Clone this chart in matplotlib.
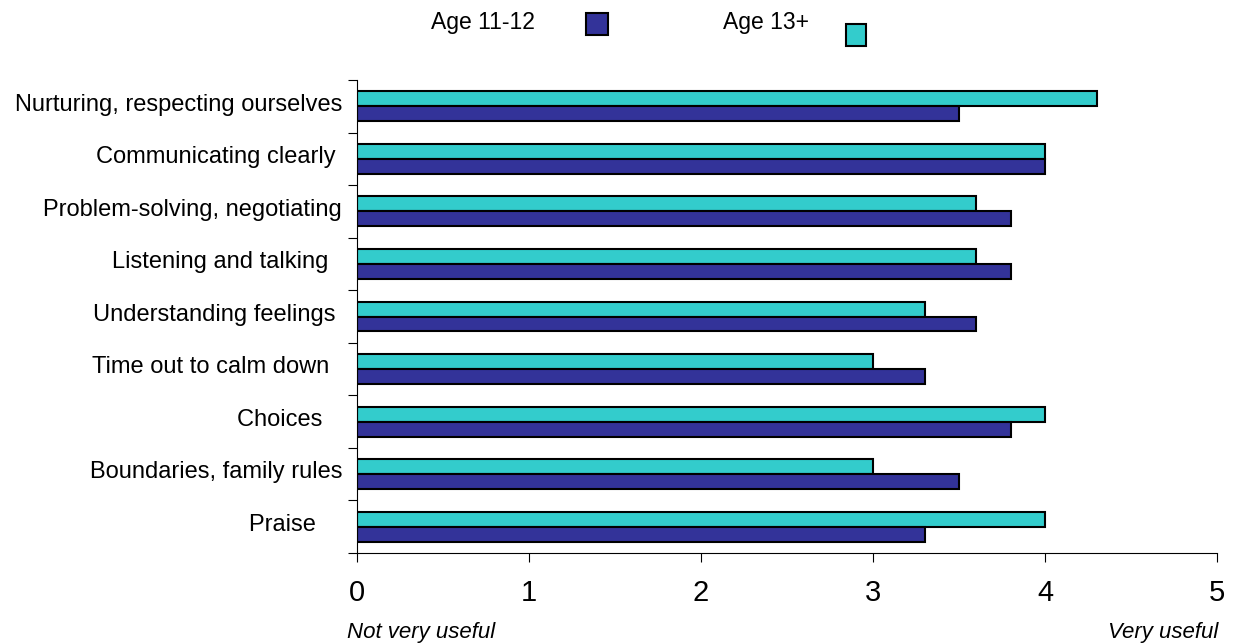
import numpy as np
import matplotlib
matplotlib.use("Agg")
import matplotlib.pyplot as plt
from matplotlib.patches import Rectangle

plt.rcParams['font.family'] = ['Liberation Sans', 'DejaVu Sans']

# data, top to bottom as shown
categories = [
    "Nurturing, respecting ourselves",
    "Communicating clearly ",
    "Problem-solving, negotiating",
    "Listening and talking  ",
    "Understanding feelings ",
    "Time out to calm down  ",
    "Choices   ",
    "Boundaries, family rules",
    "Praise    ",
]
age_11_12 = [3.5, 4.0, 3.8, 3.8, 3.6, 3.3, 3.8, 3.5, 3.3]
age_13_plus = [4.3, 4.0, 3.6, 3.6, 3.3, 3.0, 4.0, 3.0, 4.0]
series_names = ["Age 11-12", "Age 13+"]
xticks = [0, 1, 2, 3, 4, 5]

DARK = "#333399"
TEAL = "#33CCCC"

W, H = 1235, 644
fig = plt.figure(figsize=(W / 100, H / 100), dpi=100)
ax = fig.add_axes([357 / W, 1 - 553 / H, (1217 - 357) / W, (553 - 80) / H])

y = np.arange(len(categories))
bh = 0.285
# teal on top, dark underneath (y axis is inverted)
ax.barh(y - bh / 2, age_13_plus, height=bh, color=TEAL,
        edgecolor='black', linewidth=1.5)
ax.barh(y + bh / 2, age_11_12, height=bh, color=DARK,
        edgecolor='black', linewidth=1.5)

ax.set_xlim(0, 5)
ax.set_ylim(len(categories) - 0.5, -0.5)

ax.set_xticks(xticks)
ax.set_xticklabels([str(t) for t in xticks], fontsize=21)
ax.tick_params(axis='x', direction='out', length=6.5, width=0.8, pad=12)

ax.set_yticks(y - 0.08)
ax.set_yticklabels(categories, fontsize=17)
ax.tick_params(axis='y', which='major', length=0, pad=10.8)
ax.set_yticks(np.arange(len(categories) + 1) - 0.5, minor=True)
ax.tick_params(axis='y', which='minor', direction='out', length=6.5, width=0.8)

for s in ['top', 'right']:
    ax.spines[s].set_visible(False)
for s in ['left', 'bottom']:
    ax.spines[s].set_linewidth(0.8)

fig.text(347 / W, 1 - 638 / H, "Not very useful", fontsize=16, style='italic',
         ha='left', va='baseline')
fig.text(1218 / W, 1 - 638 / H, "Very useful", fontsize=16, style='italic',
         ha='right', va='baseline')

# legend drawn by hand to match the offset layout
fig.text(535 / W, 1 - 29.5 / H, series_names[0], fontsize=16.5, ha='right', va='baseline')
fig.patches.append(Rectangle((586 / W, 1 - 35 / H), 22 / W, 22 / H,
                             transform=fig.transFigure, facecolor=DARK,
                             edgecolor='black', linewidth=1.5))
fig.text(723 / W, 1 - 29 / H, series_names[1], fontsize=16.5, ha='left', va='baseline')
fig.patches.append(Rectangle((846 / W, 1 - 46 / H), 20 / W, 22 / H,
                             transform=fig.transFigure, facecolor=TEAL,
                             edgecolor='black', linewidth=1.5))

fig.savefig("out.png", dpi=100)
